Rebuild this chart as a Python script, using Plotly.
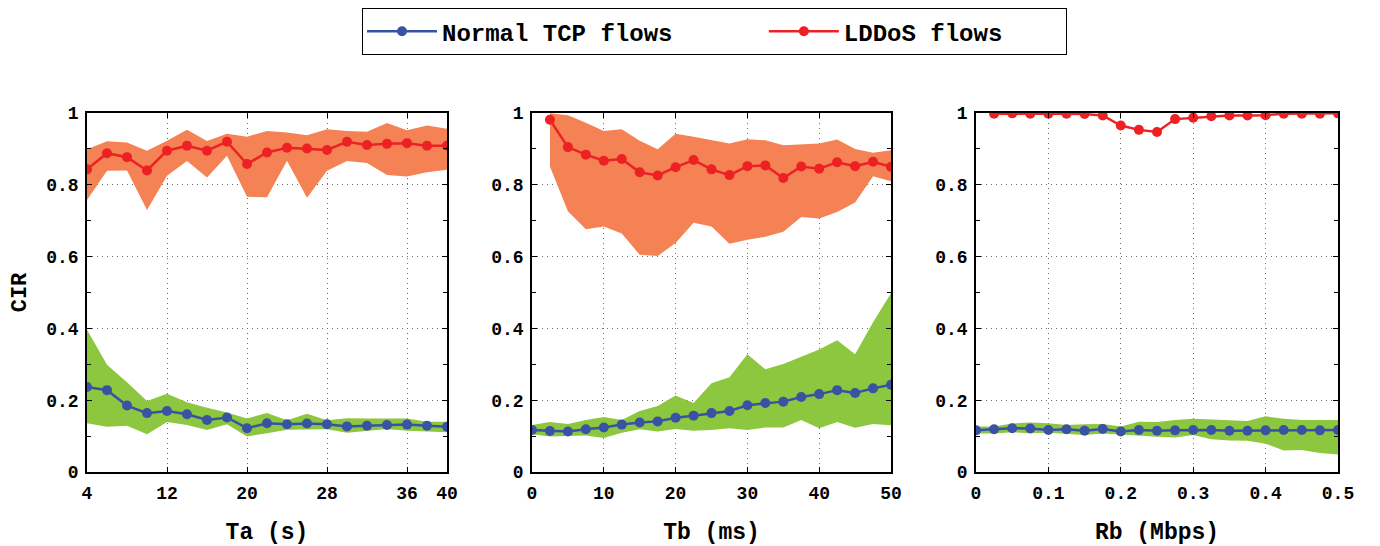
import plotly.graph_objects as go

# ---------------- data ----------------
ta = [4, 6, 8, 10, 12, 14, 16, 18, 20, 22, 24, 26, 28, 30, 32, 34, 36, 38, 40]
ta_tcp = [0.237, 0.228, 0.185, 0.164, 0.170, 0.161, 0.145, 0.152, 0.122, 0.136, 0.133, 0.135, 0.133, 0.127, 0.129, 0.131, 0.132, 0.129, 0.126]
ta_tcp_hi = [0.396, 0.299, 0.250, 0.198, 0.218, 0.194, 0.179, 0.166, 0.149, 0.164, 0.144, 0.162, 0.144, 0.150, 0.149, 0.149, 0.149, 0.140, 0.140]
ta_tcp_lo = [0.136, 0.126, 0.129, 0.105, 0.139, 0.131, 0.117, 0.133, 0.099, 0.108, 0.118, 0.118, 0.119, 0.109, 0.115, 0.120, 0.115, 0.113, 0.111]
ta_ld = [0.843, 0.888, 0.877, 0.840, 0.895, 0.909, 0.895, 0.920, 0.858, 0.890, 0.903, 0.901, 0.897, 0.920, 0.911, 0.914, 0.916, 0.909, 0.909]
ta_ld_hi = [0.899, 0.921, 0.918, 0.895, 0.923, 0.953, 0.922, 0.942, 0.934, 0.950, 0.946, 0.938, 0.955, 0.950, 0.948, 0.972, 0.952, 0.965, 0.956]
ta_ld_lo = [0.758, 0.839, 0.840, 0.730, 0.825, 0.866, 0.820, 0.881, 0.767, 0.765, 0.867, 0.764, 0.839, 0.866, 0.861, 0.827, 0.823, 0.835, 0.842]

tb = [0, 2.5, 5, 7.5, 10, 12.5, 15, 17.5, 20, 22.5, 25, 27.5, 30, 32.5, 35, 37.5, 40, 42.5, 45, 47.5, 50]
tb_tcp = [0.117, 0.114, 0.113, 0.119, 0.124, 0.132, 0.138, 0.141, 0.151, 0.157, 0.164, 0.170, 0.186, 0.192, 0.196, 0.209, 0.217, 0.228, 0.220, 0.233, 0.243]
tb_tcp_hi = [0.131, 0.139, 0.134, 0.145, 0.153, 0.145, 0.170, 0.184, 0.213, 0.192, 0.247, 0.264, 0.328, 0.286, 0.301, 0.321, 0.341, 0.367, 0.328, 0.417, 0.498]
tb_tcp_lo = [0.105, 0.099, 0.100, 0.102, 0.095, 0.109, 0.119, 0.113, 0.120, 0.115, 0.117, 0.122, 0.117, 0.124, 0.124, 0.145, 0.122, 0.139, 0.123, 0.134, 0.130]
tb_ld_x = [2.5, 5, 7.5, 10, 12.5, 15, 17.5, 20, 22.5, 25, 27.5, 30, 32.5, 35, 37.5, 40, 42.5, 45, 47.5, 50]
tb_ld = [0.981, 0.905, 0.884, 0.867, 0.872, 0.835, 0.826, 0.849, 0.869, 0.843, 0.827, 0.852, 0.854, 0.819, 0.851, 0.845, 0.863, 0.852, 0.864, 0.850]
tb_ld_hi = [0.999, 0.994, 0.973, 0.950, 0.955, 0.923, 0.899, 0.942, 0.934, 0.925, 0.915, 0.927, 0.924, 0.910, 0.912, 0.915, 0.926, 0.900, 0.889, 0.896]
tb_ld_lo = [0.851, 0.726, 0.676, 0.684, 0.664, 0.605, 0.602, 0.638, 0.694, 0.684, 0.636, 0.647, 0.655, 0.669, 0.710, 0.706, 0.724, 0.751, 0.824, 0.810]

rb = [0, 0.025, 0.05, 0.075, 0.1, 0.125, 0.15, 0.175, 0.2, 0.225, 0.25, 0.275, 0.3, 0.325, 0.35, 0.375, 0.4, 0.425, 0.45, 0.475, 0.5]
rb_tcp = [0.116, 0.119, 0.122, 0.121, 0.117, 0.119, 0.115, 0.120, 0.113, 0.117, 0.115, 0.116, 0.117, 0.117, 0.115, 0.115, 0.116, 0.117, 0.117, 0.116, 0.117]
rb_tcp_hi = [0.127, 0.127, 0.135, 0.138, 0.136, 0.131, 0.133, 0.134, 0.127, 0.140, 0.139, 0.145, 0.148, 0.147, 0.144, 0.142, 0.155, 0.148, 0.145, 0.145, 0.145]
rb_tcp_lo = [0.107, 0.107, 0.111, 0.108, 0.109, 0.106, 0.103, 0.107, 0.102, 0.101, 0.098, 0.096, 0.103, 0.091, 0.088, 0.087, 0.079, 0.060, 0.061, 0.053, 0.049]
rb_ld_x = [0.025, 0.05, 0.075, 0.1, 0.125, 0.15, 0.175, 0.2, 0.225, 0.25, 0.275, 0.3, 0.325, 0.35, 0.375, 0.4, 0.425, 0.45, 0.475, 0.5]
rb_ld = [0.998, 0.999, 0.998, 0.998, 0.998, 0.997, 0.993, 0.965, 0.953, 0.947, 0.983, 0.987, 0.991, 0.993, 0.993, 0.994, 0.998, 0.998, 0.998, 0.999]

y_ticks = [0, 0.2, 0.4, 0.6, 0.8, 1]
ta_ticks = [4, 12, 20, 28, 36, 40]
tb_ticks = [0, 10, 20, 30, 40, 50]
rb_ticks = [0, 0.1, 0.2, 0.3, 0.4, 0.5]
x_titles = ["Ta (s)", "Tb (ms)", "Rb (Mbps)"]
series_names = ["Normal TCP flows", "LDDoS flows"]

# ---------------- style ----------------
BLUE = "rgb(57,83,164)"
RED = "rgb(237,32,36)"
GREEN = "rgb(141,198,63)"
ORANGE = "rgb(244,130,84)"
FONT = "Liberation Mono"

fig = go.Figure()


def band(x, lo, hi, color, ax):
    fig.add_trace(go.Scatter(
        x=list(x) + list(x)[::-1], y=list(hi) + list(lo)[::-1],
        fill="toself", fillcolor=color, line=dict(width=0), mode="lines",
        hoverinfo="skip", showlegend=False, xaxis="x" + ax, yaxis="y" + ax))


def line(x, y, color, name, ax, show, pad=""):
    fig.add_trace(go.Scatter(
        x=x, y=y, mode="lines+markers", name=name + pad,
        line=dict(color=color, width=2.5),
        marker=dict(color=color, size=10, symbol="circle"),
        showlegend=show, legendgroup=name, xaxis="x" + ax, yaxis="y" + ax))


NB = "\u00a0"
# panel 1
band(ta, ta_tcp_lo, ta_tcp_hi, GREEN, "")
band(ta, ta_ld_lo, ta_ld_hi, ORANGE, "")
line(ta, ta_tcp, BLUE, series_names[0], "", True, NB * 6)
line(ta, ta_ld, RED, series_names[1], "", True, NB * 4)
# panel 2
band(tb, tb_tcp_lo, tb_tcp_hi, GREEN, "2")
band(tb_ld_x, tb_ld_lo, tb_ld_hi, ORANGE, "2")
line(tb, tb_tcp, BLUE, series_names[0], "2", False)
line(tb_ld_x, tb_ld, RED, series_names[1], "2", False)
# panel 3
band(rb, rb_tcp_lo, rb_tcp_hi, GREEN, "3")
line(rb, rb_tcp, BLUE, series_names[0], "3", False)
line(rb_ld_x, rb_ld, RED, series_names[1], "3", False)

OFF = 8  # page body margin
W, H = 1380 - OFF, 546 - OFF
L, R, T, B = 87 - OFF, 1338 - OFF, 113 - OFF, 472 - OFF
PW, PH = R - L, B - T
pix = [(87, 447), (532, 891), (976, 1338)]
tick_font = dict(family=FONT, size=18, color="black", weight="bold")
title_font = dict(family=FONT, size=23, color="black", weight="bold")

common_axis = dict(
    showline=True, linecolor="black", linewidth=1.5, mirror="allticks",
    ticks="inside", ticklen=5, tickcolor="black", tickwidth=1,
    showgrid=True, gridcolor="rgb(110,110,110)", griddash="1px,4px", gridwidth=1,
    zeroline=False, tickfont=tick_font, automargin=False,
)

xranges = [[4, 40], [0, 50], [0, 0.5]]
xticks = [ta_ticks, tb_ticks, rb_ticks]
layout = {}
for i in range(3):
    sfx = "" if i == 0 else str(i + 1)
    layout["xaxis" + sfx] = dict(
        common_axis, domain=[(pix[i][0] - 87) / PW, (pix[i][1] - 87) / PW], range=xranges[i],
        tickvals=xticks[i], anchor="y" + sfx, ticklabelstandoff=4,
        title=dict(text=x_titles[i], font=title_font, standoff=22))
    layout["yaxis" + sfx] = dict(
        common_axis, domain=[0, 1], range=[0, 1], tickvals=y_ticks,
        anchor="x" + sfx, ticklabelstandoff=3,
        minor=dict(dtick=0.1, ticks="inside", ticklen=4, tickcolor="black", showgrid=False),
        title=dict(text="CIR" if i == 0 else "", font=dict(title_font, size=22), standoff=17))

fig.update_layout(
    width=W, height=H, margin=dict(l=L, r=W - R, t=T, b=H - B, autoexpand=False),
    paper_bgcolor="white", plot_bgcolor="white",
    legend=dict(orientation="h", x=(362 - 87) / PW, xanchor="left",
                y=(472 - 8) / PH, yanchor="top",
                bordercolor="black", borderwidth=1.2,
                font=dict(family=FONT, size=24, color="black", weight="bold"),
                entrywidth=0, itemwidth=70),
    **layout,
)

fig.write_html("out.html")
